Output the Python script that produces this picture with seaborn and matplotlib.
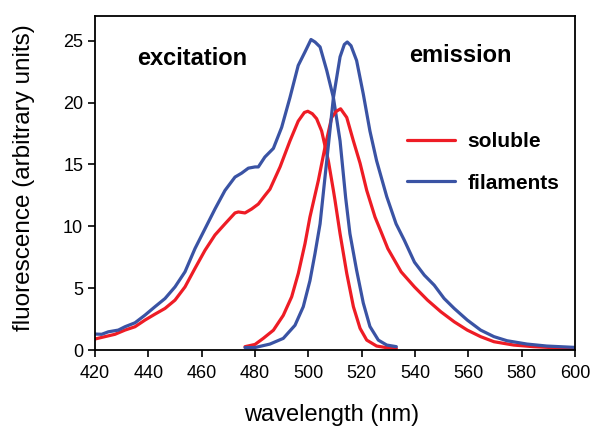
import pandas as pd
import matplotlib
matplotlib.use("Agg")
import matplotlib.pyplot as plt
import seaborn as sns

# excitation spectra
exc_sol_nm = [420, 423.75, 427.5, 431.25, 435, 438.75, 442.5, 446.25, 450, 453.75, 457.5,
              461.25, 465, 468.75, 472.5, 473.75, 476.25, 478.75, 481.25, 483.75, 485.6,
              489.4, 493.1, 496.2, 498.5, 499.8, 501.5, 503.1, 505, 507.5, 509.4, 510,
              511.9, 514.4, 516.9, 519.4, 521.9, 525.6, 529, 533]
exc_sol_val = [0.89, 1.08, 1.27, 1.61, 1.88, 2.42, 2.9, 3.36, 4.03, 5.1, 6.6,
               8.06, 9.3, 10.2, 11.08, 11.16, 11.08, 11.4, 11.8, 12.5, 13.0,
               14.8, 16.9, 18.5, 19.2, 19.3, 19.1, 18.7, 17.7, 15.3, 12.9, 12.1,
               9.4, 6.2, 3.5, 1.75, 0.8, 0.32, 0.2, 0.13]

exc_fil_nm = [420, 422.5, 425, 428.75, 431.25, 435, 438.75, 442.5, 446.25, 450, 453.75,
              457.5, 461.25, 465, 468.75, 472.5, 475, 477.5, 480, 481.25, 483.7, 486.9,
              490, 493.1, 496.2, 498.75, 501, 502.5, 504.4, 506.9, 509.4, 511.9, 514,
              515.6, 518.1, 520.6, 523.1, 526.25, 529.4, 533]
exc_fil_val = [1.29, 1.27, 1.47, 1.61, 1.88, 2.2, 2.82, 3.5, 4.16, 5.1, 6.32,
               8.2, 9.8, 11.4, 12.9, 13.98, 14.3, 14.7, 14.8, 14.8, 15.6, 16.3,
               18.0, 20.4, 23.0, 24.1, 25.1, 24.9, 24.5, 22.6, 20.4, 16.9, 12.3,
               9.4, 6.45, 3.8, 1.9, 0.8, 0.4, 0.27]

# emission spectra
em_sol_nm = [476.25, 480, 483.1, 486.9, 490.6, 493.75, 496.25, 498.75, 500.6, 503.75,
             506.25, 508.75, 510.5, 512.1, 514.4, 516.9, 519.4, 521.9, 525, 527.3, 529.8,
             534.8, 539.8, 544.7, 549.7, 554.7, 559.6, 564.6, 569.6, 577, 584.4, 591.9,
             600]
em_sol_val = [0.27, 0.45, 0.94, 1.6, 2.8, 4.3, 6.2, 8.6, 10.75, 13.7,
              16.4, 18.8, 19.3, 19.5, 18.8, 16.9, 15.1, 12.9, 10.75, 9.54, 8.2,
              6.32, 5.1, 4.03, 3.09, 2.28, 1.61, 1.08, 0.67, 0.4, 0.27, 0.19,
              0.1]

em_fil_nm = [476.25, 480, 485.6, 490.6, 495, 498.1, 500.6, 502.5, 504.4, 506.9, 509.4,
             511.9, 513.5, 514.6, 516, 518.1, 520.6, 523.1, 525.6, 529.4, 532.9, 536,
             539.8, 543.5, 547.2, 550.9, 554.7, 559.6, 564.6, 569.6, 574.5, 582, 589.4,
             600]
em_fil_val = [0.2, 0.2, 0.48, 0.94, 2.0, 3.5, 5.6, 7.8, 10.2, 15.3, 20.4,
              23.7, 24.7, 24.9, 24.6, 23.4, 20.7, 17.7, 15.3, 12.4, 10.2, 8.87,
              7.1, 6.05, 5.24, 4.17, 3.36, 2.42, 1.61, 1.08, 0.75, 0.48, 0.32,
              0.21]

RED = "#ee1c25"
BLUE = "#3a53a4"

sns.set_style("ticks")
plt.rcParams["font.family"] = ["Liberation Sans", "DejaVu Sans"]
plt.rcParams["text.color"] = "black"
plt.rcParams["axes.labelcolor"] = "black"
plt.rcParams["xtick.color"] = "black"
plt.rcParams["ytick.color"] = "black"

fig = plt.figure(figsize=(5.9, 4.26), dpi=100)
ax = fig.add_axes([0.161, 0.1784, 0.8136, 0.784])

curves = [
    (exc_sol_nm, exc_sol_val, RED, "soluble"),
    (exc_fil_nm, exc_fil_val, BLUE, "filaments"),
    (em_sol_nm, em_sol_val, RED, None),
    (em_fil_nm, em_fil_val, BLUE, None),
]
for nm, val, col, lab in curves:
    df = pd.DataFrame({"nm": nm, "val": val})
    sns.lineplot(data=df, x="nm", y="val", color=col, lw=2.3, ax=ax,
                 label=lab, sort=False)

ax.set_xlim(420, 600)
ax.set_ylim(0, 27)
ax.set_xticks(range(420, 601, 20))
ax.set_yticks(range(0, 26, 5))
ax.tick_params(labelsize=13, width=1.2, length=5, direction="out")
ax.tick_params(axis="x", pad=6)
for sp in ax.spines.values():
    sp.set_linewidth(1.3)
    sp.set_color("black")

# reference clips the bottom of this label; keep it just inside the canvas
ax.set_xlabel("wavelength (nm)", fontsize=17)
ax.set_ylabel("fluorescence (arbitrary units)", fontsize=17.5)
ax.xaxis.set_label_coords(0.493, -0.163)
ax.yaxis.set_label_coords(-0.125, 0.515)

ax.text(456.5, 23.6, "excitation", fontsize=17, fontweight="bold",
        ha="center", va="center")
ax.text(557, 23.8, "emission", fontsize=17, fontweight="bold",
        ha="center", va="center")

ax.legend(loc="upper left", bbox_to_anchor=(0.633, 0.677), borderaxespad=0,
          frameon=False, prop={"size": 15, "weight": "bold"},
          handlelength=2.3, handletextpad=0.58, labelspacing=1.07)

fig.savefig("out.png", dpi=100)
